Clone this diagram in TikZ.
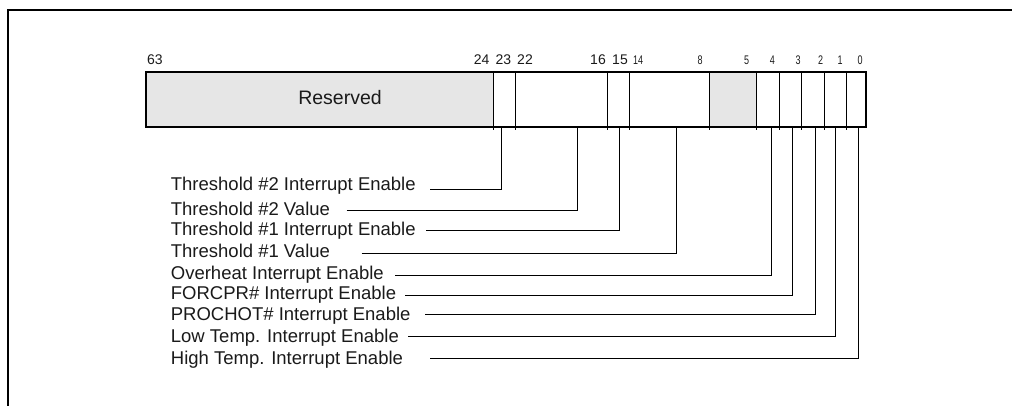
\documentclass[tikz,border=0pt]{standalone}
\usepackage{fontspec}
\usepackage{graphicx}
\setmainfont{Liberation Sans}
\definecolor{regfill}{HTML}{E6E6E6}
\definecolor{ink}{HTML}{1A1A1A}
\begin{document}
\begin{tikzpicture}[x=1pt,y=-1pt,
  lbl/.style={anchor=base west, inner sep=0pt, text=ink, font=\fontsize{18.5}{22}\selectfont},
  bitnum/.style={anchor=base, inner sep=0pt, text=ink, font=\fontsize{14}{16}\selectfont},
  bitnar/.style={anchor=base, inner sep=0pt, text=ink, font=\fontsize{12.5}{14}\selectfont},
  conn/.style={line width=1pt, draw=black},
  divider/.style={line width=0.9pt, draw=black},
  field/.style={fill=regfill, draw=none},
  outline/.style={line width=2pt, draw=black},
  frameline/.style={line width=2pt, draw=black}]
\useasboundingbox (0,0) rectangle (1012,406);

% partial frame
\draw[frameline] (8.3,406) -- (8.3,10) -- (1012,10);

% reserved fields
\fill[field] (146,72) rectangle (493.3,127);
\fill[field] (709.3,72) rectangle (756.2,127);

% dividers
\foreach \x in {493.3,515.5,607.5,629.3,709.3,756.2,779.3,801.3,824.3,846.3}
  \draw[divider] (\x,72) -- (\x,130);

% register outline
\draw[outline] (146,72) rectangle (866,127);

\node[inner sep=0pt, text=ink, font=\fontsize{19.5}{22}\selectfont, anchor=base] (rsv) at (340,105) {Reserved};

% bit numbers
\node[bitnum, anchor=base west] (n63) at (147,65) {63};
\node[bitnum] (n24) at (481.7,65) {24};
\node[bitnum] (n23) at (503.3,65) {23};
\node[bitnum] (n22) at (525,65) {22};
\node[bitnum] (n16) at (598,65) {16};
\node[bitnum] (n15) at (620,65) {15};
\node[bitnar] (n14) at (638,65) {\scalebox{0.72}[1]{14}};
\node[bitnar] (n8) at (700,65) {\scalebox{0.72}[1]{8}};
\node[bitnar] (n5) at (746.7,65) {\scalebox{0.72}[1]{5}};
\node[bitnar] (n4) at (772.3,65) {\scalebox{0.72}[1]{4}};
\node[bitnar] (n3) at (798,65) {\scalebox{0.72}[1]{3}};
\node[bitnar] (n2) at (820.7,65) {\scalebox{0.72}[1]{2}};
\node[bitnar] (n1) at (840,65) {\scalebox{0.72}[1]{1}};
\node[bitnar] (n0) at (860,65) {\scalebox{0.72}[1]{0}};

% field labels
\node[lbl] (l1) at (170.7,190.7) {Threshold \#2 Interrupt Enable};
\node[lbl] (l2) at (170.7,215) {Threshold \#2 Value};
\node[lbl] (l3) at (170.7,236) {Threshold \#1 Interrupt Enable};
\node[lbl] (l4) at (170.7,257.7) {Threshold \#1 Value};
\node[lbl] (l5) at (170.7,279.3) {Overheat Interrupt Enable};
\node[lbl] (l6) at (170.7,299.5) {FORCPR\# Interrupt Enable};
\node[lbl] (l7) at (170.7,320.7) {PROCHOT\# Interrupt Enable};
\node[lbl] (l8) at (170.7,342.3) {Low Temp. Interrupt Enable};
\node[lbl] (l9) at (170.7,364) {High Temp. Interrupt Enable};

% connector start points
\coordinate (s1) at (430,189.3);
\coordinate (s2) at (346.7,210.5);
\coordinate (s3) at (426,230.3);
\coordinate (s4) at (361.7,253.3);
\coordinate (s5) at (395,275.3);
\coordinate (s6) at (405,295.3);
\coordinate (s7) at (425,314.7);
\coordinate (s8) at (408.3,336.7);
\coordinate (s9) at (430,358.3);

% connector end points on the register
\coordinate (b1) at (501,127);
\coordinate (b2) at (577.3,127);
\coordinate (b3) at (619.3,127);
\coordinate (b4) at (676.7,127);
\coordinate (b5) at (771.3,127);
\coordinate (b6) at (792.3,127);
\coordinate (b7) at (815.3,127);
\coordinate (b8) at (835.3,127);
\coordinate (b9) at (858.3,127);

\foreach \i in {1,...,9}
  \draw[conn] (s\i) -| (b\i);
\end{tikzpicture}
\end{document}
